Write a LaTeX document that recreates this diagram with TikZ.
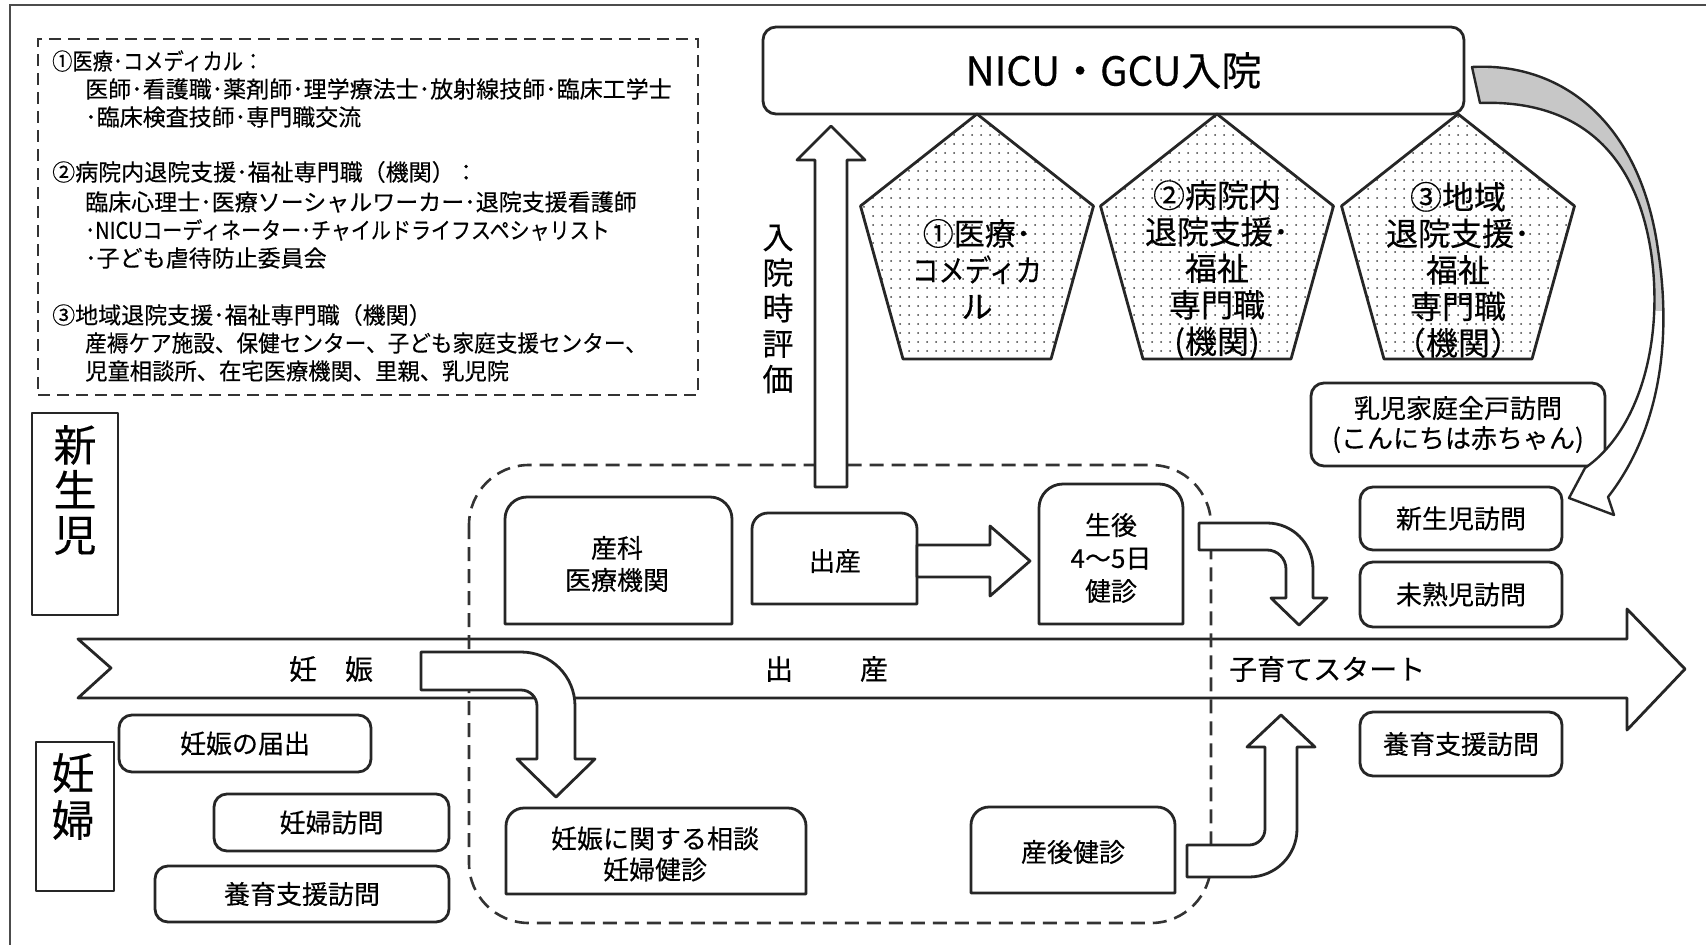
\documentclass[tikz,border=0pt]{standalone}
\usepackage{graphicx}
\usepackage{fontspec}
\setmainfont{Noto Sans CJK JP}[FakeBold=0.3]
\usetikzlibrary{patterns}
\pgfdeclarepatternformonly{sparsedots}{\pgfqpoint{-1pt}{-1pt}}{\pgfqpoint{1pt}{1pt}}{\pgfqpoint{9pt}{9pt}}{\pgfpathcircle{\pgfpointorigin}{1pt}\pgfusepath{fill}}
\newcommand\setfs[2]{\fontsize{#1}{#2}\selectfont}
\newcommand\topbox[5]{\draw[ln, fill=white] (#1,#4) -- (#1,#2+#5) arc[start angle=180,end angle=270,radius=#5] -- (#3-#5,#2) arc[start angle=270,end angle=360,radius=#5] -- (#3,#4) -- cycle;}
\newcommand\pentagon[1]{\draw[ln, pattern=sparsedots, pattern color=black!75] (#1,114) -- (#1+116.5,206) -- (#1+74,359) -- (#1-74,359) -- (#1-116.5,206) -- cycle;}
\begin{document}
\begin{tikzpicture}[x=1pt,y=-1pt,
  ln/.style={line width=2.8pt, draw=black!85, line join=round},
  rbox/.style={ln, fill=white, rounded corners=13pt, inner sep=0pt, align=center, font=\setfs{26}{31}},
  sqbox/.style={ln, fill=white, inner sep=0pt},
  lbl/.style={inner sep=0pt, align=center},
  legtxt/.style={anchor=west, inner sep=0pt, font=\setfs{23}{27}},
  blockarrow/.style={ln, fill=white},
  dashline/.style={line width=2.6pt, draw=black!80, dash pattern=on 14pt off 8pt}]
\useasboundingbox (0,0) rectangle (1706,945);
\fill[white] (0,0) rectangle (1706,945);
% frame
\draw[line width=1.3pt, black!70] (10,945) -- (10,5) -- (1706,5);
% legend
\node[draw=black!80, line width=1.7pt, dash pattern=on 12pt off 7pt, minimum width=660pt, minimum height=356pt, inner sep=0pt] (legend) at (368,217) {};
\node[legtxt] (l1) at (52,61) {\scalebox{0.88}[1]{①医療･コメディカル：}};
\node[legtxt] (l2) at (85,89) {医師･看護職･薬剤師･理学療法士･放射線技師･臨床工学士};
\node[legtxt] (l3) at (85,117) {･臨床検査技師･専門職交流};
\node[legtxt] (l4) at (52,172) {②病院内退院支援･福祉専門職（機関）：};
\node[legtxt] (l5) at (85,202) {臨床心理士･医療ソーシャルワーカー･退院支援看護師};
\node[legtxt] (l6) at (85,230) {\scalebox{0.87}[1]{･NICUコーディネーター･チャイルドライフスペシャリスト}};
\node[legtxt] (l7) at (85,258) {･子ども虐待防止委員会};
\node[legtxt] (l8) at (52,315) {③地域退院支援･福祉専門職（機関）};
\node[legtxt] (l9) at (85,343) {\scalebox{0.94}[1]{産褥ケア施設、保健センター、子ども家庭支援センター、}};
\node[legtxt] (l10) at (85,371) {\scalebox{0.97}[1]{児童相談所、在宅医療機関、里親、乳児院}};
% main band
\draw[ln, fill=white] (78,639) -- (1627,639) -- (1627,609) -- (1685,669) -- (1627,730) -- (1627,698) -- (78,698) -- (111,668) -- cycle;
\node[lbl, font=\setfs{28}{32}] (ninshin) at (331,669) {妊　娠};
\node[lbl, font=\setfs{28}{32}] (shussan) at (826.5,669) {出\hspace{67pt}産};
\node[lbl, anchor=west, font=\setfs{28}{32}] (kosodate) at (1229,669) {子育てスタート};
% dashed region
\draw[dashline, rounded corners=60pt] (469,465) rectangle (1211,923);
% side labels
\node[sqbox, minimum width=86pt, minimum height=202pt] (shinseiji) at (75,514) {};
\node[lbl, font=\setfs{43}{45}] (shinseijiT) at (75,490) {新\\生\\児};
\node[sqbox, minimum width=78pt, minimum height=149pt] (ninpu) at (75,816.5) {};
\node[lbl, font=\setfs{43}{47}] (ninpuT) at (73,796.5) {妊\\婦};
% NICU and pentagons
\node[rbox, minimum width=701pt, minimum height=87pt, font=\setfs{40}{44}] (nicu) at (1113.5,70.5) {NICU・GCU入院};
\pentagon{977}
\pentagon{1217}
\pentagon{1458}
\node[lbl, font=\setfs{31}{36.5}] (p1) at (977,269) {①医療･\\\scalebox{0.85}[1]{コメディカ}\\ル};
\node[lbl, font=\setfs{32}{36.5}] (p2) at (1217,270) {②病院内\\退院支援･\\福祉\\専門職\\(機関)};
\node[lbl, font=\setfs{32}{36.5}] (p3) at (1458,270) {③地域\\退院支援･\\福祉\\専門職\\（機関）};
% admission evaluation arrow
\draw[blockarrow] (815,487) -- (815,160) -- (797,160) -- (831,126) -- (865,160) -- (847,160) -- (847,487) -- cycle;
\node[lbl, font=\setfs{31}{35.5}] (nyuin) at (778,309) {入\\院\\時\\評\\価};
% left boxes
\node[rbox, minimum width=252pt, minimum height=57pt] (todokede) at (245,743.5) {妊娠の届出};
\node[rbox, minimum width=235pt, minimum height=57pt] (houmon) at (331.5,822.5) {妊婦訪問};
\node[rbox, minimum width=294pt, minimum height=56pt] (yoikuL) at (302,894) {養育支援訪問};
% top-rounded boxes
\topbox{505}{497}{732}{624}{22}
\node[lbl, font=\setfs{26}{32}] (sanka) at (617,564) {産科\\医療機関};
\topbox{752}{513}{917}{604}{16}
\node[lbl, font=\setfs{26}{31}] (birth) at (835,561) {出産};
\topbox{1039}{484}{1183}{624}{24}
\node[lbl, font=\setfs{26}{33}] (seigo) at (1111,558) {生後\\4～5日\\健診};
\topbox{506}{808}{806}{894}{18}
\node[lbl, font=\setfs{26}{31}] (soudan) at (655,854) {妊娠に関する相談\\妊婦健診};
\topbox{971}{807}{1175}{893}{18}
\node[lbl, font=\setfs{26}{31}] (sango) at (1073,852) {産後健診};
% arrow birth -> checkup
\draw[blockarrow] (917,545) -- (990,545) -- (990,526) -- (1030,561) -- (990,596) -- (990,577) -- (917,577) -- cycle;
% bent arrow pregnancy -> consultation
\draw[blockarrow] (421,652) -- (521,652) arc[start angle=-90,end angle=0,radius=54] -- (575,759) -- (595,759) -- (556,797) -- (517,759) -- (537,759) -- (537,706) arc[start angle=0,end angle=-90,radius=16] -- (421,690) -- cycle;
% bent arrow checkup -> child rearing
\draw[blockarrow] (1199,523) -- (1267,523) arc[start angle=-90,end angle=0,radius=46] -- (1313,598) -- (1327,598) -- (1299,625) -- (1271,598) -- (1286,598) -- (1286,569) arc[start angle=0,end angle=-90,radius=19] -- (1199,550) -- cycle;
% bent arrow postpartum -> child rearing
\draw[blockarrow] (1187,845) -- (1249,845) arc[start angle=90,end angle=0,radius=16] -- (1265,747) -- (1247,747) -- (1281,715) -- (1315,747) -- (1297,747) -- (1297,829) arc[start angle=0,end angle=90,radius=48] -- (1187,877) -- cycle;
% right boxes
\node[rbox, minimum width=294pt, minimum height=83pt, font=\setfs{26}{30}] (zenko) at (1458,424.5) {乳児家庭全戸訪問\\(こんにちは赤ちゃん)};
\node[rbox, minimum width=202pt, minimum height=63pt] (shinhou) at (1461,518.5) {新生児訪問};
\node[rbox, minimum width=202pt, minimum height=65pt] (mijuku) at (1461,594.5) {未熟児訪問};
\node[rbox, minimum width=202pt, minimum height=64pt] (yoikuR) at (1461,744) {養育支援訪問};
% curved arrow
\def\curvpath{(1472,67) .. controls (1560,62) and (1640,120) .. (1658,250)
 .. controls (1672,340) and (1660,430) .. (1608,497)
 -- (1614,515) -- (1569,498) -- (1585,468)
 .. controls (1640,430) and (1664,340) .. (1651,252)
 .. controls (1633,135) and (1560,100) .. (1480,103) -- cycle}
\fill[white] \curvpath;
\begin{scope}
\clip (1400,0) rectangle (1706,310);
\fill[black!22] \curvpath;
\end{scope}
\draw[ln, line width=2.4pt] \curvpath;
\end{tikzpicture}
\end{document}
